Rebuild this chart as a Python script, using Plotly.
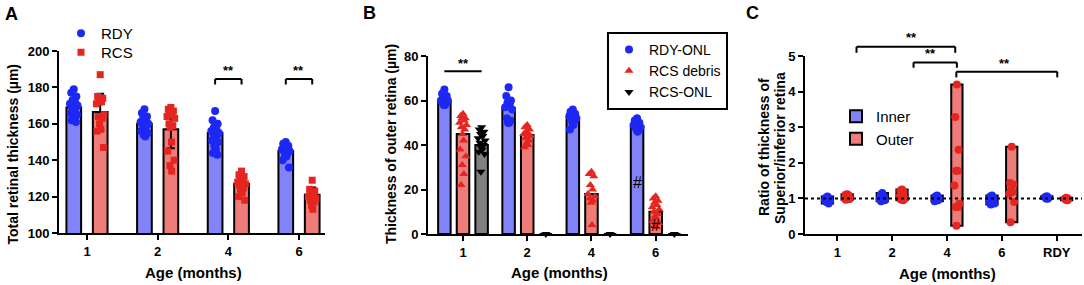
import plotly.graph_objects as go

W, H = 1084, 285
FONT = "Liberation Sans, Arial, sans-serif"

# ---------------- Panel A data ----------------
A_ages = ["1", "2", "4", "6"]
A_rdy_mean = [169, 160, 155, 145]
A_rcs_mean = [166.5, 157, 127, 121]
A_rdy_sd = [5, 4, 6, 3]
A_rcs_sd = [10, 10.5, 4, 4]
A_rdy_pts = [
    [179, 177, 175, 173, 172, 171, 170, 170, 169, 168, 167, 166, 165, 164, 163, 162, 161],
    [168, 166, 164, 163, 162, 161, 160, 160, 159, 158, 157, 156, 155, 154, 153],
    [167, 162, 160, 158, 157, 156, 155, 155, 154, 153, 152, 151, 150, 148, 146, 144, 143],
    [150, 149, 148, 147, 146, 146, 145, 145, 144, 143, 142, 140, 136],
]
A_rcs_pts = [
    [187, 175, 174, 173, 172, 171, 165, 164, 163, 160, 157, 156, 147],
    [169, 168, 167, 166, 165, 164, 163, 160, 159, 158, 150, 145, 140, 137, 134],
    [134, 132, 131, 130, 129, 128, 127, 126, 125, 124, 122, 120, 118],
    [129, 124, 123, 122, 121, 120, 119, 118, 117, 115, 113],
]

# ---------------- Panel B data ----------------
B_ages = ["1", "2", "4", "6"]
B_rdy_onl_mean = [60, 56.5, 52.5, 48.5]
B_debris_mean = [45, 44.5, 18, 10]
B_rcs_onl_mean = [40, 0, 0, 0]
B_rdy_onl_pts = [
    [65, 63, 62, 61, 61, 60, 60, 59, 59, 58, 58],
    [66, 62, 60, 59, 58, 57, 56, 52, 51, 50, 50],
    [56, 55, 54, 54, 53, 53, 52, 52, 51, 50, 49, 47],
    [52, 51, 50, 50, 49, 49, 48, 48, 47, 47, 46],
]
B_debris_pts = [
    [54, 53, 52, 52, 51, 50, 49, 48, 47, 45, 42, 38, 35, 31, 27, 22],
    [49, 48, 47, 46, 45, 45, 44, 43, 42, 41, 40, 39],
    [28, 27, 26, 22, 20, 18, 17, 16, 15, 14, 4],
    [17, 16, 15, 14, 13, 12, 11, 10, 9, 8, 7, 6, 5, 4, 3],
]
B_rcs_onl_pts = [
    [48, 47, 46, 45, 44, 43, 42, 41, 40, 39, 38, 37, 36, 28],
    [0],
    [0],
    [0],
]

# ---------------- Panel C data ----------------
C_groups = ["1", "2", "4", "6", "RDY"]
C_inner_pts = [
    [1.05, 1.02, 1.0, 0.98, 0.96, 0.94, 0.92, 0.9, 0.86],
    [1.15, 1.1, 1.05, 1.02, 1.0, 0.98, 0.95, 0.92],
    [1.08, 1.05, 1.0, 0.97, 0.95, 0.92],
    [1.08, 1.05, 1.0, 0.97, 0.94, 0.9, 0.86, 0.83],
    [1.06, 1.04, 1.02, 1.0, 0.99],
]
C_outer_pts = [
    [1.12, 1.1, 1.08, 1.05, 1.03, 1.0, 0.98, 0.96],
    [1.25, 1.22, 1.18, 1.12, 1.08, 1.05, 1.0, 0.97, 0.95],
    [4.2, 3.29, 2.37, 1.78, 1.78, 1.36, 0.85, 0.76, 0.76, 0.23],
    [2.45, 1.43, 1.39, 1.23, 1.18, 1.13, 0.9, 0.33],
    [1.02, 1.0, 0.98, 0.96, 0.95],
]

# ---------------- styles ----------------
BLUE_PT = "#1e28f5"
RED_PT = "#e52620"
BLUE_BAR = "#8383f9"
RED_BAR = "#ee7d7a"
GRAY_BAR = "#808080"

JIT = [0, -0.6, 0.6, -0.3, 0.3, -0.9, 0.9, -0.45, 0.45, -0.15, 0.15, -0.75, 0.75, -0.2, 0.2, -0.5, 0.5]

def jitter_xy(groups, offset, half):
    xs, ys = [], []
    for i, vals in enumerate(groups):
        for k, v in enumerate(vals):
            xs.append(i + offset + JIT[k % len(JIT)] * half)
            ys.append(v)
    return xs, ys

A_xr = [-0.396, 3.368]
B_xr = [-0.545, 3.503]
C_xr = [-0.589, 4.461]
A_yr = [100, 200]
B_yr = [0, 80]
C_yr = [0, 5]

fig = go.Figure()
bar_line = dict(color="black", width=2)

# ---- Panel A ----
A_off, A_w = 0.187, 0.208
fig.add_trace(go.Bar(x=[i - A_off for i in range(4)], y=A_rdy_mean, width=A_w,
                     marker=dict(color=BLUE_BAR, line=bar_line),
                     error_y=dict(type="data", array=A_rdy_sd, color="black", thickness=2, width=4),
                     xaxis="x", yaxis="y", showlegend=False))
fig.add_trace(go.Bar(x=[i + A_off for i in range(4)], y=A_rcs_mean, width=A_w,
                     marker=dict(color=RED_BAR, line=bar_line),
                     error_y=dict(type="data", array=A_rcs_sd, color="black", thickness=2, width=4),
                     xaxis="x", yaxis="y", showlegend=False))
xs, ys = jitter_xy(A_rdy_pts, -A_off, 0.06)
fig.add_trace(go.Scatter(x=xs, y=ys, mode="markers", name="RDY",
                         marker=dict(symbol="circle", size=8, color=BLUE_PT),
                         xaxis="x", yaxis="y", legend="legend", cliponaxis=False))
xs, ys = jitter_xy(A_rcs_pts, A_off, 0.06)
fig.add_trace(go.Scatter(x=xs, y=ys, mode="markers", name="RCS",
                         marker=dict(symbol="square", size=7, color=RED_PT),
                         xaxis="x", yaxis="y", legend="legend4", cliponaxis=False))

# ---- Panel B ----
B_off, B_w = 0.29, 0.195
fig.add_trace(go.Bar(x=[i - B_off for i in range(4)], y=B_rdy_onl_mean, width=B_w,
                     marker=dict(color=BLUE_BAR, line=bar_line),
                     xaxis="x2", yaxis="y2", showlegend=False))
fig.add_trace(go.Bar(x=[i for i in range(4)], y=B_debris_mean, width=B_w,
                     marker=dict(color=RED_BAR, line=bar_line),
                     xaxis="x2", yaxis="y2", showlegend=False))
fig.add_trace(go.Bar(x=[i + B_off for i in range(4)], y=B_rcs_onl_mean, width=B_w,
                     marker=dict(color=GRAY_BAR, line=bar_line),
                     xaxis="x2", yaxis="y2", showlegend=False))
xs, ys = jitter_xy(B_rdy_onl_pts, -B_off, 0.06)
fig.add_trace(go.Scatter(x=xs, y=ys, mode="markers", name="RDY-ONL",
                         marker=dict(symbol="circle", size=8, color=BLUE_PT),
                         xaxis="x2", yaxis="y2", legend="legend2", cliponaxis=False))
xs, ys = jitter_xy(B_debris_pts, 0, 0.06)
fig.add_trace(go.Scatter(x=xs, y=ys, mode="markers", name="RCS debris",
                         marker=dict(symbol="triangle-up", size=8, color=RED_PT),
                         xaxis="x2", yaxis="y2", legend="legend2", cliponaxis=False))
xs, ys = jitter_xy(B_rcs_onl_pts, B_off, 0.06)
fig.add_trace(go.Scatter(x=xs, y=ys, mode="markers", name="RCS-ONL",
                         marker=dict(symbol="triangle-down", size=8, color="black"),
                         xaxis="x2", yaxis="y2", legend="legend2", cliponaxis=False))

# ---- Panel C ----
C_off, C_w = 0.18, 0.206
fig.add_trace(go.Bar(x=[i - C_off for i in range(5)],
                     y=[max(v) - min(v) for v in C_inner_pts],
                     base=[min(v) for v in C_inner_pts], width=C_w, name="Inner",
                     marker=dict(color=BLUE_BAR, line=bar_line),
                     xaxis="x3", yaxis="y3", legend="legend3"))
fig.add_trace(go.Bar(x=[i + C_off for i in range(5)],
                     y=[max(v) - min(v) for v in C_outer_pts],
                     base=[min(v) for v in C_outer_pts], width=C_w, name="Outer",
                     marker=dict(color=RED_BAR, line=bar_line),
                     xaxis="x3", yaxis="y3", legend="legend3"))
xs, ys = jitter_xy(C_inner_pts, -C_off, 0.05)
fig.add_trace(go.Scatter(x=xs, y=ys, mode="markers", showlegend=False,
                         marker=dict(symbol="circle", size=8, color=BLUE_PT),
                         xaxis="x3", yaxis="y3", cliponaxis=False))
xs, ys = jitter_xy(C_outer_pts, C_off, 0.05)
fig.add_trace(go.Scatter(x=xs, y=ys, mode="markers", showlegend=False,
                         marker=dict(symbol="circle", size=8, color=RED_PT),
                         xaxis="x3", yaxis="y3", cliponaxis=False))

# ---------------- axes ----------------
tickfont = dict(family=FONT, size=13, color="black", weight="bold")

def xaxis(domain, rng, labels, anchor):
    return dict(domain=domain, range=rng, anchor=anchor, tickmode="array",
                tickvals=list(range(len(labels))), ticktext=labels,
                showline=True, linewidth=2, linecolor="black", ticks="outside",
                ticklen=5, tickwidth=2, tickcolor="black", showgrid=False,
                zeroline=False, tickfont=tickfont, automargin=False)

def yaxis(domain, rng, dtick, anchor):
    return dict(domain=domain, range=rng, anchor=anchor, dtick=dtick, tick0=0,
                showline=True, linewidth=2, linecolor="black", ticks="outside",
                ticklen=5, tickwidth=2, tickcolor="black", showgrid=False,
                zeroline=False, tickfont=tickfont, automargin=False)

yA = [1 - 233 / H, 1 - 51 / H]
yBC = [1 - 234 / H, 1 - 56 / H]

def leg(x, y, size, **kw):
    d = dict(x=x / W, y=1 - y / H, xanchor="left", yanchor="top",
             bgcolor="rgba(0,0,0,0)", font=dict(family=FONT, size=size, color="black"),
             tracegroupgap=0)
    d.update(kw)
    return d

fig.update_layout(
    width=W, height=H, margin=dict(l=0, r=0, t=0, b=0, pad=0, autoexpand=False),
    autosize=False,
    paper_bgcolor="white", plot_bgcolor="white", barmode="overlay",
    font=dict(family=FONT, color="black"),
    xaxis=xaxis([59 / W, 325 / W], A_xr, A_ages, "y"),
    yaxis=yaxis(yA, A_yr, 20, "x"),
    xaxis2=xaxis([428 / W, 688 / W], B_xr, B_ages, "y2"),
    yaxis2=yaxis(yBC, B_yr, 20, "x2"),
    xaxis3=xaxis([805 / W, 1082 / W], C_xr, C_groups, "y3"),
    yaxis3=yaxis(yBC, C_yr, 1, "x3"),
    legend=leg(61, 17, 15),
    legend4=leg(61, 36, 15),
    legend2=leg(607, 32, 14, bgcolor="white", bordercolor="black", borderwidth=2),
    legend3=leg(836, 100, 15),
)

# ---------------- shapes: brackets & reference line ----------------
shapes = []

def dom(v, rng):
    return (v - rng[0]) / (rng[1] - rng[0])

def bracket(ax, xr, yr, x0, x1, y, ydrop, drop0=True, drop1=True):
    xref, yref = ax[0] + " domain", ax[1] + " domain"
    line = dict(color="black", width=2)
    shapes.append(dict(type="line", xref=xref, yref=yref, x0=dom(x0, xr), x1=dom(x1, xr),
                       y0=dom(y, yr), y1=dom(y, yr), line=line))
    if drop0:
        shapes.append(dict(type="line", xref=xref, yref=yref, x0=dom(x0, xr), x1=dom(x0, xr),
                           y0=dom(y, yr), y1=dom(ydrop, yr), line=line))
    if drop1:
        shapes.append(dict(type="line", xref=xref, yref=yref, x0=dom(x1, xr), x1=dom(x1, xr),
                           y0=dom(y, yr), y1=dom(ydrop, yr), line=line))

# Panel A brackets (4 and 6 months)
bracket(("x", "y"), A_xr, A_yr, 2 - A_off, 2 + A_off, 184.6, 181.6)
bracket(("x", "y"), A_xr, A_yr, 3 - A_off, 3 + A_off, 184.6, 181.6)
# Panel B line (1 month)
bracket(("x2", "y2"), B_xr, B_yr, 0 - B_off, 0 + B_off, 73.2, 73.2, False, False)
# Panel C brackets
bracket(("x3", "y3"), C_xr, C_yr, 0.35, 2.15, 5.26, 5.09)
bracket(("x3", "y3"), C_xr, C_yr, 1.39, 2.18, 4.82, 4.67)
bracket(("x3", "y3"), C_xr, C_yr, 2.17, 4.01, 4.56, 4.40)
# dotted y = 1 line
shapes.append(dict(type="line", xref="x3 domain", yref="y3", x0=0, x1=1, y0=1, y1=1,
                   line=dict(color="black", width=2, dash="dot")))
fig.update_layout(shapes=shapes)

# ---------------- annotations ----------------
ann = []
def txt(text, x, y, size, bold=True, angle=0):
    ann.append(dict(text=text, x=x / W, y=1 - y / H, xref="paper", yref="paper",
                    showarrow=False, xanchor="center", yanchor="middle", textangle=angle,
                    font=dict(family=FONT, size=size, color="black",
                              weight="bold" if bold else "normal")))

def dtxt(text, ax, xr, yr, x, y, size, bold=True):
    ann.append(dict(text=text, x=dom(x, xr), y=dom(y, yr),
                    xref=ax[0] + " domain", yref=ax[1] + " domain",
                    showarrow=False, xanchor="center", yanchor="middle",
                    font=dict(family=FONT, size=size, color="black",
                              weight="bold" if bold else "normal")))

# panel letters
txt("A", 11, 14, 18)
txt("B", 369, 13, 18)
txt("C", 752, 13, 18)
# axis titles
txt("Total retinal thickness (µm)", 12.5, 154, 14, angle=-90)
txt("Thickness of outer retina (µm)", 391, 144, 14, angle=-90)
txt("Ratio of thickness of", 763.5, 147.5, 14, angle=-90)
txt("Superior/inferior retina", 779.5, 147.5, 14, angle=-90)
txt("Age (months)", 193.5, 272, 15)
txt("Age (months)", 559, 272, 15)
txt("Age (months)", 947, 273, 15)
# significance marks
dtxt("**", ("x", "y"), A_xr, A_yr, 2, 189.5, 13)
dtxt("**", ("x", "y"), A_xr, A_yr, 3, 189.5, 13)
dtxt("**", ("x2", "y2"), B_xr, B_yr, 0, 76.6, 13)
dtxt("**", ("x3", "y3"), C_xr, C_yr, 1.36, 5.53, 13)
dtxt("**", ("x3", "y3"), C_xr, C_yr, 1.69, 5.06, 13)
dtxt("**", ("x3", "y3"), C_xr, C_yr, 3.05, 4.79, 13)
# hash marks
dtxt("#", ("x2", "y2"), B_xr, B_yr, 3 - B_off, 23, 16, bold=False)
dtxt("#", ("x2", "y2"), B_xr, B_yr, 3, 4, 16, bold=False)
fig.update_layout(annotations=ann)

fig.write_html("out.html", config={"displayModeBar": False},
               post_script="document.body.style.margin='0px';")
